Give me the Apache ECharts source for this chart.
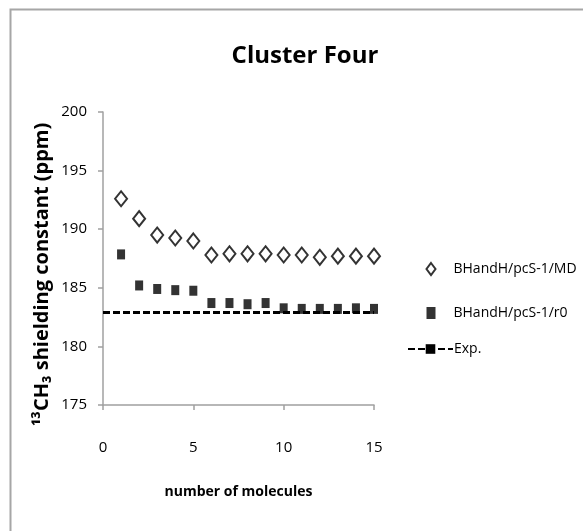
<!DOCTYPE html>
<html><head><meta charset="utf-8">
<script src="https://cdn.jsdelivr.net/npm/echarts@6/dist/echarts.min.js"></script>
<style>html,body{margin:0;padding:0;background:#fff;}#c{width:583px;height:531px;}</style>
</head><body><div id="c"></div>
<script>
var molecules = [1,2,3,4,5,6,7,8,9,10,11,12,13,14,15];
var mdValues = [192.6,190.9,189.5,189.25,189.0,187.8,187.9,187.9,187.9,187.8,187.8,187.6,187.7,187.7,187.7];
var r0Values = [187.85,185.2,184.9,184.8,184.75,183.7,183.7,183.6,183.7,183.25,183.2,183.2,183.2,183.25,183.2];
var expX = [0,1,2,3,4,5,6,7,8,9,10,11,12,13,14,15];
var expValue = 182.9;
var seriesNames = ['BHandH/pcS-1/MD','BHandH/pcS-1/r0','Exp.'];

var FONT = '"Open Sans",sans-serif';
function pairs(xs, ys){ return xs.map(function(x,i){ return [x, ys[i]]; }); }
var expData = expX.map(function(x){ return [x, expValue]; });

var chart = echarts.init(document.getElementById('c'), null, {renderer:'canvas'});
chart.setOption({
  animation:false,
  backgroundColor:'#fff',
  title:{text:'Cluster Four', left:300, top:39, textAlign:'center',
    textStyle:{fontFamily:FONT, fontWeight:'bold', fontSize:24, color:'#000'}},
  graphic:[{type:'rect', shape:{x:10.5, y:9.5, width:700, height:700},
    style:{fill:'none', stroke:'#a6a6a6', lineWidth:2}, silent:true}],
  legend:[
    {orient:'vertical', left:425.5, top:262, padding:0, itemGap:30, itemWidth:9, itemHeight:12,
      textStyle:{fontFamily:FONT, fontSize:14, lineHeight:14, color:'#000', padding:[0,0,0,13]},
      data:[seriesNames[0], seriesNames[1]]},
    {orient:'vertical', left:407, top:342, padding:0, itemWidth:45, itemHeight:12,
      textStyle:{fontFamily:FONT, fontSize:14, lineHeight:14, color:'#000', padding:[0,0,0,-4]},
      data:[seriesNames[2]]}
  ],
  grid:{left:103, right:209, top:112, bottom:126},
  xAxis:{type:'value', min:0, max:15, interval:5,
    axisLine:{lineStyle:{color:'#a0a0a0', width:1.5}},
    axisTick:{show:true, length:5, lineStyle:{color:'#a0a0a0', width:1.5}},
    axisLabel:{fontFamily:FONT, fontSize:15, color:'#000', margin:35},
    splitLine:{show:false},
    name:'number of molecules', nameLocation:'middle', nameGap:80,
    nameTextStyle:{fontFamily:FONT, fontWeight:'bold', fontSize:14, color:'#000'}},
  yAxis:{type:'value', min:175, max:200, interval:5,
    axisLine:{show:true, lineStyle:{color:'#a0a0a0', width:1.5}},
    axisTick:{show:true, length:5, lineStyle:{color:'#a0a0a0', width:1.5}},
    axisLabel:{fontFamily:FONT, fontSize:15, color:'#000', margin:16},
    splitLine:{show:false},
    name:'{a|\u00b9\u00b3CH\u2083 shielding constant (ppm)}{s| }', nameLocation:'middle', nameGap:51,
    nameTextStyle:{fontFamily:FONT, fontWeight:'bold', fontSize:20, color:'#000',
      rich:{a:{fontFamily:FONT, fontWeight:'bold', fontSize:20, color:'#000'},
            s:{width:32, fontSize:20}}}},
  series:[
    {name:seriesNames[0], type:'scatter', data:pairs(molecules, mdValues),
      symbol:'diamond', symbolSize:[12,15],
      itemStyle:{color:'#fff', borderColor:'#000', borderWidth:2}, z:3},
    {name:seriesNames[1], type:'scatter', data:pairs(molecules, r0Values),
      symbol:'rect', symbolSize:[8,10],
      itemStyle:{color:'#000'}, z:3},
    {name:seriesNames[2], type:'line', data:expData, symbol:'rect', symbolSize:[8,3],
      showSymbol:false, itemStyle:{color:'#000'},
      lineStyle:{color:'#000', width:3, type:[7,3]}, z:2}
  ]
});
</script></body></html>
